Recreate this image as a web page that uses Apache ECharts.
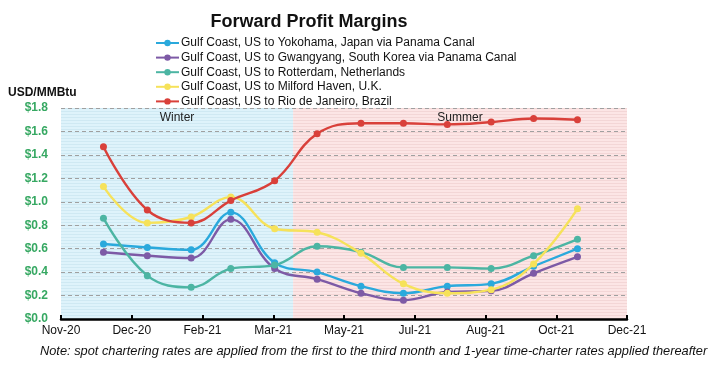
<!DOCTYPE html>
<html><head><meta charset="utf-8">
<script src="https://cdn.jsdelivr.net/npm/echarts@6/dist/echarts.min.js"></script>
<style>html,body{margin:0;padding:0;background:#fff}#c{width:720px;height:368px}</style>
</head><body><div id="c"></div>
<script>
const months = ['2020-12-01','2021-01-01','2021-02-01','2021-03-01','2021-04-01','2021-05-01','2021-06-01','2021-07-01','2021-08-01','2021-09-01','2021-10-01','2021-11-01'];
const seriesNames = [
  'Gulf Coast, US to Yokohama, Japan via Panama Canal',
  'Gulf Coast, US to Gwangyang, South Korea via Panama Canal',
  'Gulf Coast, US to Rotterdam, Netherlands',
  'Gulf Coast, US to Milford Haven, U.K.',
  'Gulf Coast, US to Rio de Janeiro, Brazil'
];
const yokohama  = [0.64,0.61,0.59,0.91,0.48,0.40,0.28,0.22,0.28,0.30,0.45,0.60];
const gwangyang = [0.57,0.54,0.52,0.85,0.43,0.34,0.22,0.16,0.23,0.24,0.39,0.53];
const rotterdam = [0.86,0.37,0.27,0.43,0.46,0.62,0.57,0.44,0.44,0.43,0.54,0.68];
const milford   = [1.13,0.82,0.87,1.04,0.77,0.74,0.56,0.30,0.22,0.25,0.47,0.94];
const rio       = [1.47,0.93,0.82,1.01,1.18,1.58,1.67,1.67,1.66,1.68,1.71,1.70];
const colors = ['#2aa9dc','#7d5aa6','#4cb5a3','#f6e25a','#d9403a'];
const axisStart = '2020-11-01', axisEnd = '2021-12-06', seasonSplit = '2021-04-14';
const xTickDays = 50;
const yTicks = [0,0.2,0.4,0.6,0.8,1.0,1.2,1.4,1.6,1.8];
const seasons = ['Winter','Summer'];
const note = 'Note: spot chartering rates are applied from the first to the third month and 1-year time-charter rates applied thereafter';

const DAY = 86400000;
const t0 = Date.parse(axisStart+'T00:00:00Z');
const toDays = s => Math.round((Date.parse(s+'T00:00:00Z') - t0)/DAY);
const MON = ['Jan','Feb','Mar','Apr','May','Jun','Jul','Aug','Sep','Oct','Nov','Dec'];
const fmtDay = d => { const dt = new Date(t0 + d*DAY); return MON[dt.getUTCMonth()] + '-' + String(dt.getUTCFullYear()).slice(2); };

function pattern(bg, line){
  const c = document.createElement('canvas'); c.width = 8; c.height = 3;
  const g = c.getContext('2d'); g.fillStyle = bg; g.fillRect(0,0,8,3);
  g.fillStyle = line; g.fillRect(0,0,8,1); return c;
}

const allData = [yokohama, gwangyang, rotterdam, milford, rio];
const series = allData.map((vals,i)=>({
  name: seriesNames[i], type:'line', smooth:0.4, symbol:'circle', symbolSize:7,
  data: vals.map((v,j)=>[toDays(months[j]), v]),
  lineStyle:{width:2.4, color:colors[i]}, itemStyle:{color:colors[i]}, z: 5+i
}));
series.unshift({
  type:'line', data:[], z:1, silent:true,
  markArea:{ silent:true,
    label:{position:'insideTop', distance:4, color:'#222', fontSize:12, fontFamily:'Liberation Sans'},
    data:[
      [{name:seasons[0], xAxis:0, yAxis:0, itemStyle:{color:{image:pattern('#def3fb','#cfe9f3'),repeat:'repeat'}}},{xAxis:toDays(seasonSplit), yAxis:1.8}],
      [{name:seasons[1], xAxis:toDays(seasonSplit), yAxis:0, itemStyle:{color:{image:pattern('#fce5e5','#f3d6d6'),repeat:'repeat'}}},{xAxis:toDays(axisEnd), yAxis:1.8}]
    ]}
});

const chart = echarts.init(document.getElementById('c'), null, {renderer:'canvas'});
chart.setOption({
  animation:false,
  textStyle:{fontFamily:'Liberation Sans'},
  title:{text:'Forward Profit Margins', left:304, top:8, textAlign:'center',
    textStyle:{fontSize:18, fontWeight:'bold', color:'#111', fontFamily:'Liberation Sans'}},
  legend:{orient:'vertical', left:155, top:37, padding:0, itemWidth:23, itemHeight:8, itemGap:2.6,
    textStyle:{fontSize:12, color:'#111', lineHeight:12, padding:[0,0,0,-3]},
    data: seriesNames},
  grid:{left:61, right:93, top:108, bottom:49},
  xAxis:{type:'value', min:0, max:toDays(axisEnd), interval:xTickDays, z:3,
    axisLine:{lineStyle:{color:'#000', width:2.5}},
    axisTick:{show:true, length:4, inside:true, lineStyle:{color:'#000', width:2}},
    axisLabel:{formatter:fmtDay, color:'#111', fontSize:12, margin:6},
    splitLine:{show:false}},
  yAxis:{type:'value', min:yTicks[0], max:yTicks[yTicks.length-1], interval:0.2, z:2,
    axisLine:{show:false}, axisTick:{show:false},
    axisLabel:{formatter:v=>'$'+v.toFixed(1), color:'#36a862', fontWeight:'bold', fontSize:12, margin:13},
    splitLine:{lineStyle:{color:'#a0a0a0', type:[4,3], width:1}}},
  graphic:[
    {type:'text', left:8, top:87, style:{text:'USD/MMBtu', font:'bold 12px "Liberation Sans"', fill:'#111'}},
    {type:'text', left:40, top:345, style:{text:note, font:'italic 12.8px "Liberation Sans"', fill:'#111'}}
  ],
  series
});
</script></body></html>
